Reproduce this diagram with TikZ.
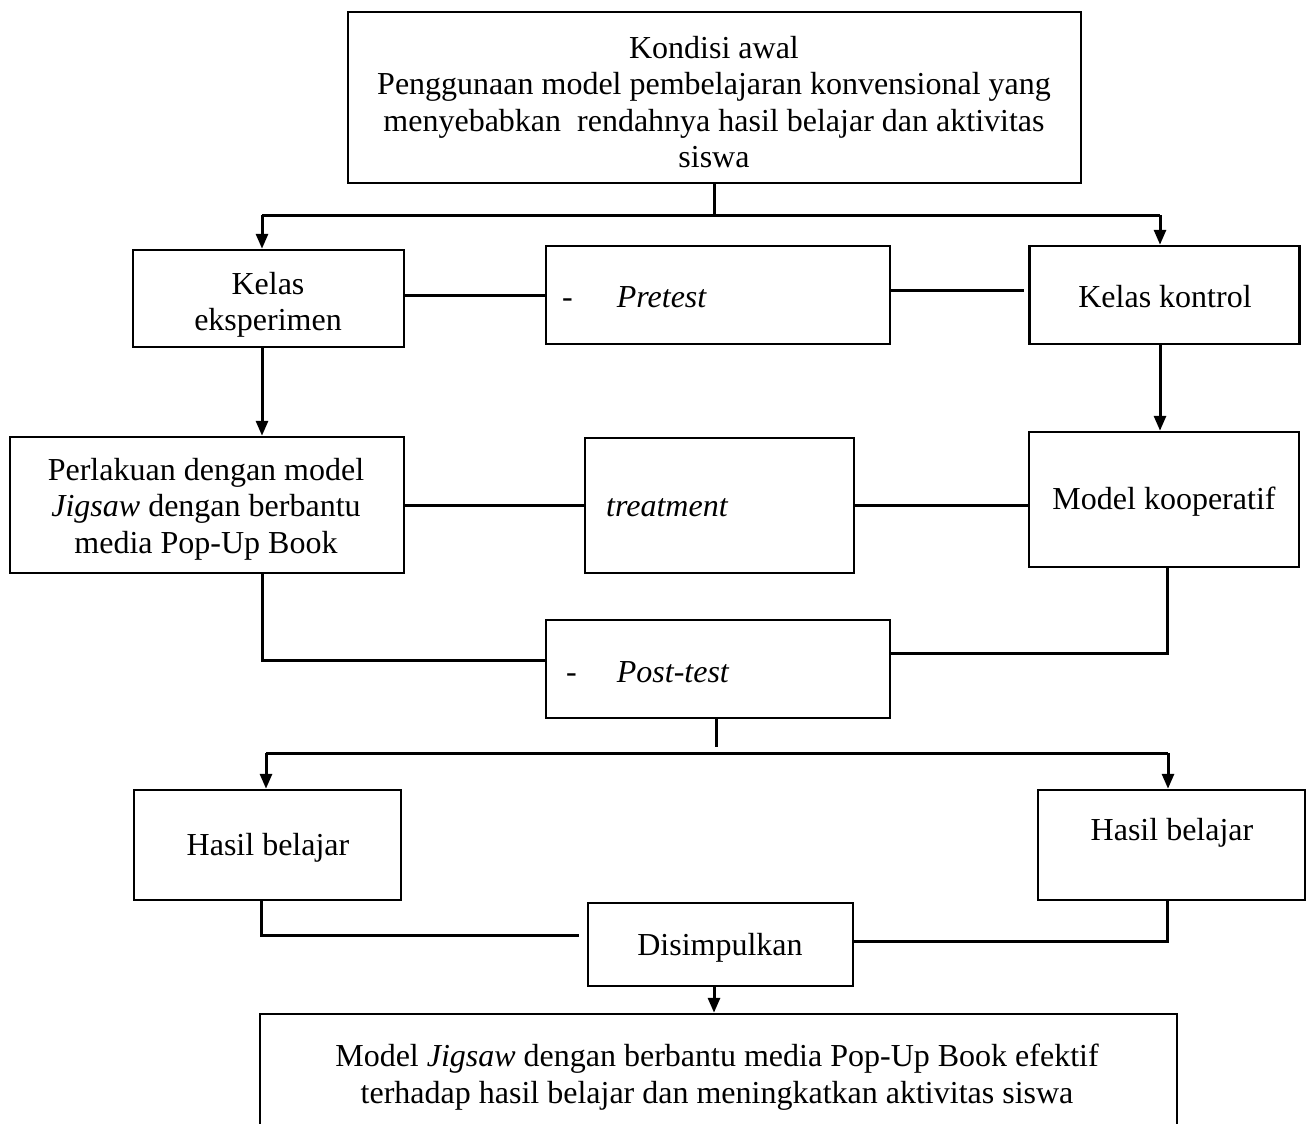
\documentclass[tikz,border=0pt]{standalone}
\usepackage{fontspec}
\setmainfont{Liberation Serif}
\usetikzlibrary{arrows.meta,calc}
\begin{document}
\begin{tikzpicture}[x=1pt,y=-1pt,
  box/.style={draw,line width=2.5pt,rectangle,inner sep=0pt},
  txt/.style={inner sep=0pt,align=center,font=\fontsize{32}{36.5}\selectfont},
  ln/.style={line width=3pt},
  arr/.style={line width=3pt,-{Triangle[length=15pt,width=12pt]}}]
\useasboundingbox (0,0) rectangle (1309,1124);
\clip (0,0) rectangle (1309,1124);
% boxes
\node[box,minimum width=733pt,minimum height=171pt] (top) at (714.5,97.5) {};
\node[box,minimum width=271pt,minimum height=97pt] (ke) at (268.5,298.5) {};
\node[box,minimum width=344pt,minimum height=98pt] (pre) at (718,295) {};
\node[box,minimum width=270pt,minimum height=98pt] (kk) at (1164.5,295) {};
\node[box,minimum width=394pt,minimum height=136pt] (pl) at (207,505) {};
\node[box,minimum width=269pt,minimum height=135pt] (tr) at (719.5,505.5) {};
\node[box,minimum width=270pt,minimum height=135pt] (mk) at (1164,499.5) {};
\node[box,minimum width=344pt,minimum height=98pt] (pt) at (718,669) {};
\node[box,minimum width=267pt,minimum height=110pt] (hbl) at (267.5,845) {};
\node[box,minimum width=267pt,minimum height=110pt] (hbr) at (1171.5,845) {};
\node[box,minimum width=265pt,minimum height=83pt] (ds) at (720.5,944.5) {};
\node[box,minimum width=917pt,minimum height=200pt] (bot) at (718.5,1114) {};
% texts
\node[txt] (ttop) at (714,102) {Kondisi awal\\Penggunaan model pembelajaran konvensional yang\\menyebabkan\ \ rendahnya hasil belajar dan aktivitas\\siswa};
\node[txt] (tke) at (268,305) {Kelas\\eksperimen};
\node[txt,anchor=west] (tpre) at (562,297) {-\hspace{44pt}\textit{Pretest}};
\node[txt] (tkk) at (1165,297) {Kelas kontrol};
\node[txt] (tpl) at (206,509) {Perlakuan dengan model\\\textit{Jigsaw} dengan berbantu\\media Pop-Up Book};
\node[txt,anchor=west] (ttr) at (606,508) {\textit{treatment}};
\node[txt] (tmk) at (1164,502) {Model kooperatif};
\node[txt,anchor=west] (tpt) at (566,672) {-\hspace{40pt}\textit{Post-test}};
\node[txt] (thbl) at (268,848) {Hasil belajar};
\node[txt] (thbr) at (1172,833) {Hasil belajar};
\node[txt] (tds) at (720,948) {Disimpulkan};
\node[txt] (tbot) at (717,1077) {Model \textit{Jigsaw} dengan berbantu media Pop-Up Book efektif\\terhadap hasil belajar dan meningkatkan aktivitas siswa};
% coordinates
\coordinate (j1) at (714,215);
\coordinate (jl) at (262,215);
\coordinate (jr) at (1160,215);
\coordinate (kgap) at (1024,290);
\coordinate (c1) at (262,660);
\coordinate (c2) at (1167,653);
\coordinate (hl) at (266,753);
\coordinate (hr) at (1168,753);
\coordinate (c3) at (261,935);
\coordinate (c4) at (579,935);
\coordinate (c5) at (1167,941);
% connectors
\draw[ln] (top.south -| j1) -- (j1);
\draw[ln] (jl) -- (jr);
\draw[arr] (jl) -- (jl |- ke.north);
\draw[arr] (jr) -- (jr |- kk.north);
\draw[ln] (pre.west -| ke.east) -- (pre.west);
\draw[ln] (kgap -| pre.east) -- (kgap);
\draw[arr] (jl |- ke.south) -- (jl |- pl.north);
\draw[arr] (jr |- kk.south) -- (jr |- mk.north);
\draw[ln] (tr.west -| pl.east) -- (tr.west);
\draw[ln] (tr.east) -- (tr.east -| mk.west);
\draw[ln] (c1 |- pl.south) -- (c1) -- (c1 -| pt.west);
\draw[ln] (c2 |- mk.south) -- (c2) -- (c2 -| pt.east);
\draw[ln] (pt.south -| 716,0) -- (716,747);
\draw[ln] (hl) -- (hr);
\draw[arr] (hl) -- (hl |- hbl.north);
\draw[arr] (hr) -- (hr |- hbr.north);
\draw[ln] (c3 |- hbl.south) -- (c3) -- (c4);
\draw[ln] (c5 |- hbr.south) -- (c5) -- (c5 -| ds.east);
\draw[arr] (ds.south -| 714,0) -- (714,1014 |- bot.north);
\end{tikzpicture}
\end{document}
